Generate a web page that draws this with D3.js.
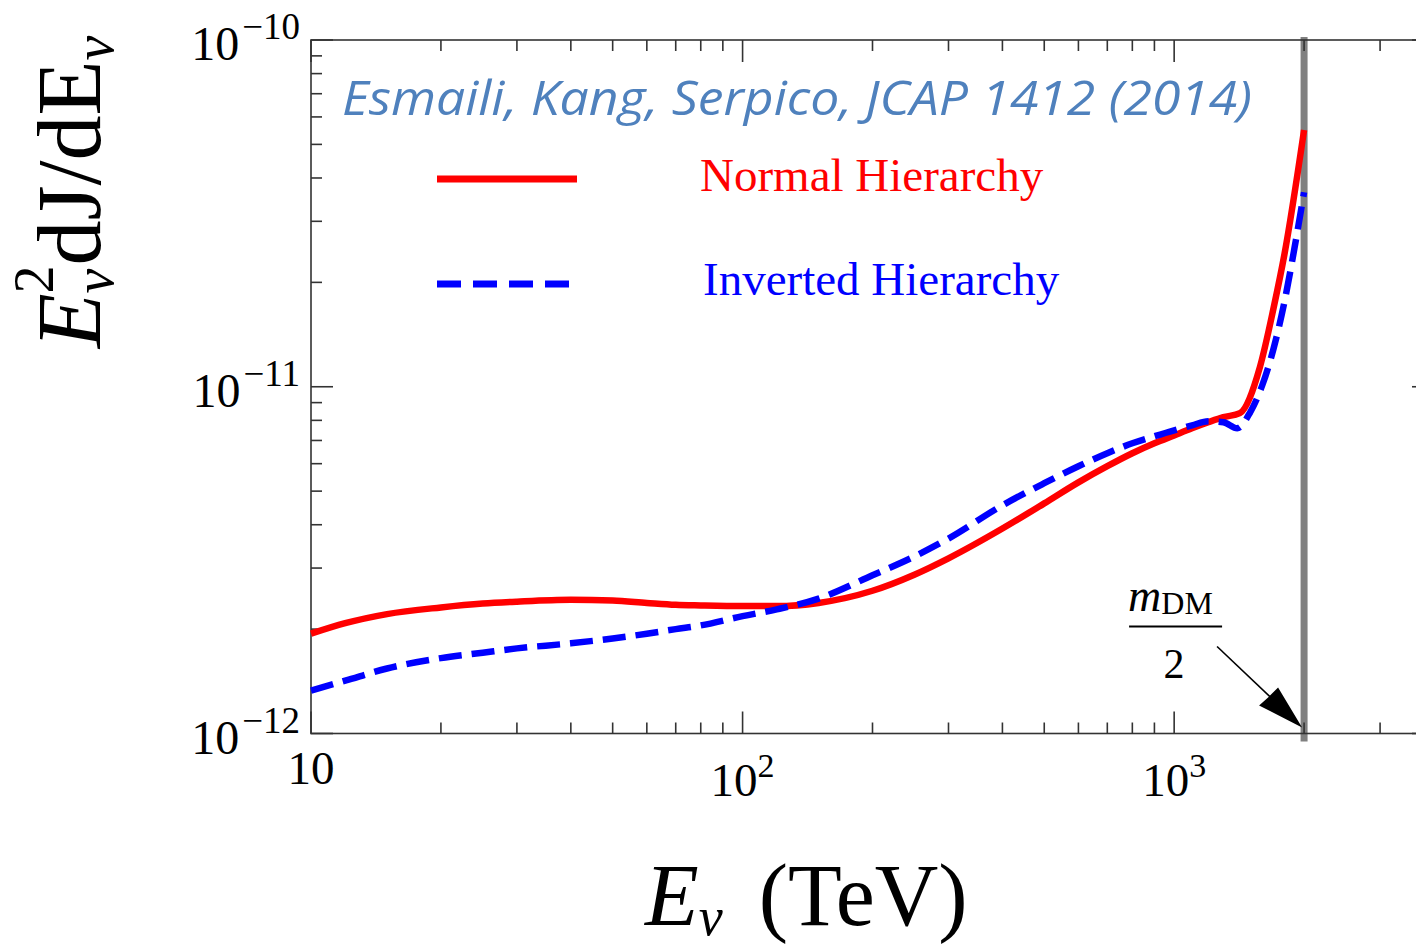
<!DOCTYPE html>
<html><head><meta charset="utf-8">
<script src="https://cdn.jsdelivr.net/npm/d3@7"></script>
<style>body{margin:0;background:#fff} svg{display:block}</style>
</head><body>
<svg id="c" width="1416" height="948"></svg>
<script>
// ---- data ----
const nhEnergy = [10,12,15,20,25,30,40,50,60,70,80,100,120,150,200,250,300,400,500,600,700,800,900,1000,1100,1200,1300,1420,1580,1700,1800,2000];
const nhFlux   = [1.94e-12,2.08e-12,2.21e-12,2.31e-12,2.37e-12,2.40e-12,2.43e-12,2.42e-12,2.38e-12,2.35e-12,2.34e-12,2.33e-12,2.33e-12,2.38e-12,2.58e-12,2.87e-12,3.20e-12,3.90e-12,4.61e-12,5.30e-12,5.90e-12,6.43e-12,6.87e-12,7.24e-12,7.59e-12,7.90e-12,8.17e-12,8.39e-12,1.14e-11,1.69e-11,2.40e-11,5.50e-11];
const ihEnergy = [10,12,15,20,25,30,40,50,60,70,80,100,120,150,200,250,300,400,500,600,700,800,900,1000,1100,1200,1300,1400,1500,1600,1700,1800,1900,2000];
const ihFlux   = [1.33e-12,1.42e-12,1.54e-12,1.65e-12,1.71e-12,1.76e-12,1.82e-12,1.88e-12,1.94e-12,2.00e-12,2.05e-12,2.18e-12,2.28e-12,2.45e-12,2.86e-12,3.24e-12,3.65e-12,4.55e-12,5.27e-12,5.90e-12,6.43e-12,6.87e-12,7.20e-12,7.49e-12,7.74e-12,7.95e-12,7.90e-12,7.59e-12,8.44e-12,1.01e-11,1.29e-11,1.75e-11,2.51e-11,3.64e-11];
const seriesNames = ["Normal Hierarchy", "Inverted Hierarchy"];
const xTickValues = [10, 100, 1000];
const xTickBase = ["10", "10", "10"];
const xTickExp = ["", "2", "3"];
const yTickValues = [1e-10, 1e-11, 1e-12];
const yTickExp = ["\u221210", "\u221211", "\u221212"];
const halfMass = 2000;
const citation = "Esmaili, Kang, Serpico, JCAP 1412 (2014)";

// ---- layout ----
const svg = d3.select("#c");
const L = 311, T = 40, B = 733.5;
const x = d3.scaleLog().domain([10, 4000]).range([L, 1434]);
const y = d3.scaleLog().domain([1e-12, 1e-10]).range([B, T]);
const R = x.range()[1];
const serif = "'Liberation Serif','Times New Roman',serif";
const axisColor = "#333";

// minor ticks
const xMinor = [], yMinor = [];
[10, 100, 1000].forEach(d => { for (let k = 2; k <= 9; k++) if (d * k <= 4000) xMinor.push(d * k); });
[1e-12, 1e-11].forEach(d => { for (let k = 2; k <= 9; k++) yMinor.push(d * k); });

// vertical line at m_DM/2
svg.append("line").attr("x1", x(halfMass)).attr("x2", x(halfMass))
  .attr("y1", T - 3).attr("y2", B + 8).attr("stroke", "#808080").attr("stroke-width", 7);

// frame
svg.append("rect").attr("x", L).attr("y", T).attr("width", R - L).attr("height", B - T)
  .attr("fill", "none").attr("stroke", axisColor).attr("stroke-width", 1.6);

const g = svg.append("g").attr("stroke", axisColor).attr("stroke-width", 1.6);
function xt(vals, len) {
  vals.forEach(v => {
    g.append("line").attr("x1", x(v)).attr("x2", x(v)).attr("y1", B).attr("y2", B - len);
    g.append("line").attr("x1", x(v)).attr("x2", x(v)).attr("y1", T).attr("y2", T + len);
  });
}
function yt(vals, len) {
  vals.forEach(v => {
    g.append("line").attr("x1", L).attr("x2", L + len).attr("y1", y(v)).attr("y2", y(v));
    g.append("line").attr("x1", R).attr("x2", R - len).attr("y1", y(v)).attr("y2", y(v));
  });
}
xt(xTickValues, 22); xt(xMinor, 11);
yt(yTickValues, 22); yt(yMinor, 11);

// x tick labels
xTickValues.forEach((v, i) => {
  const t = svg.append("text").attr("x", x(v)).attr("y", B + (xTickExp[i] ? 62 : 50))
    .attr("text-anchor", "middle").attr("font-family", serif).attr("fill", "#000");
  t.append("tspan").attr("font-size", 47).text(xTickBase[i]);
  if (xTickExp[i]) t.append("tspan").attr("font-size", 34).attr("dy", -19).text(xTickExp[i]);
});
// y tick labels
yTickValues.forEach((v, i) => {
  const t = svg.append("text").attr("x", 300).attr("y", y(v) + 20)
    .attr("text-anchor", "end").attr("font-family", serif).attr("fill", "#000");
  t.append("tspan").attr("font-size", 48).text("10");
  t.append("tspan").attr("font-size", 37).attr("dx", 3).attr("dy", -21).text(yTickExp[i]);
});

// curves
const line = d3.line().x(d => x(d[0])).y(d => y(d[1])).curve(d3.curveMonotoneX);
const nh = nhEnergy.map((e, i) => [e, nhFlux[i]]);
const ih = ihEnergy.map((e, i) => [e, ihFlux[i]]);
svg.append("path").attr("d", line(nh)).attr("fill", "none").attr("stroke", "#ff0000")
  .attr("stroke-width", 6.5).attr("stroke-linejoin", "round");
svg.append("path").attr("d", line(ih)).attr("fill", "none").attr("stroke", "#0000ff")
  .attr("stroke-width", 6.5).attr("stroke-dasharray", "23,10");

// legend
svg.append("line").attr("x1", 437).attr("x2", 577).attr("y1", 179).attr("y2", 179)
  .attr("stroke", "#ff0000").attr("stroke-width", 7);
svg.append("line").attr("x1", 437).attr("x2", 569).attr("y1", 284).attr("y2", 284)
  .attr("stroke", "#0000ff").attr("stroke-width", 7).attr("stroke-dasharray", "24,12");
svg.append("text").attr("x", 700).attr("y", 191).attr("font-family", serif).attr("font-size", 47)
  .attr("fill", "#ff0000").text(seriesNames[0]);
svg.append("text").attr("x", 703).attr("y", 295).attr("font-family", serif).attr("font-size", 47)
  .attr("fill", "#0000ff").text(seriesNames[1]);

// citation
svg.append("text").attr("x", 342).attr("y", 115)
  .attr("font-family", "'Open Sans','Noto Sans',sans-serif").attr("font-style", "italic")
  .attr("font-size", 47).attr("fill", "#4f81bd")
  .attr("textLength", 910).attr("lengthAdjust", "spacingAndGlyphs").text(citation);

// m_DM / 2 annotation
const ax = x(halfMass), ay = y(1e-12);
const lab = svg.append("text").attr("x", ax - 176).attr("y", ay - 123).attr("font-family", serif).attr("fill", "#000");
lab.append("tspan").attr("font-style", "italic").attr("font-size", 46).text("m");
lab.append("tspan").attr("font-size", 32).attr("dy", 3).text("DM");
svg.append("line").attr("x1", ax - 175).attr("x2", ax - 82).attr("y1", ay - 107).attr("y2", ay - 107)
  .attr("stroke", "#000").attr("stroke-width", 2);
svg.append("text").attr("x", ax - 130).attr("y", ay - 56).attr("text-anchor", "middle")
  .attr("font-family", serif).attr("font-size", 42).attr("fill", "#000").text("2");
svg.append("line").attr("x1", ax - 87).attr("y1", ay - 87).attr("x2", ax - 30).attr("y2", ay - 33)
  .attr("stroke", "#000").attr("stroke-width", 1.6);
svg.append("polygon")
  .attr("points", [[ax - 2, ay - 6], [ax - 45, ay - 28], [ax - 36, ay - 36], [ax - 26, ay - 46]].map(p => p.join(",")).join(" "))
  .attr("fill", "#000");

// axis titles
const xt2 = svg.append("text").attr("x", 645).attr("y", 925).attr("font-family", serif).attr("fill", "#000");
xt2.append("tspan").attr("font-style", "italic").attr("font-size", 88).text("E");
xt2.append("tspan").attr("font-style", "italic").attr("font-size", 54).attr("dy", 10).text("\u03bd");
xt2.append("tspan").attr("font-size", 88).attr("dx", 14).attr("dy", -10).text("\u00a0(TeV)");

const yt2 = svg.append("text").attr("transform", "translate(100,192) rotate(-90)")
  .attr("text-anchor", "middle").attr("font-family", serif).attr("fill", "#000");
yt2.append("tspan").attr("font-style", "italic").attr("font-size", 90).text("E");
yt2.append("tspan").attr("font-style", "italic").attr("font-size", 56).attr("dy", 13).text("\u03bd");
yt2.append("tspan").attr("font-size", 56).attr("dx", -25).attr("dy", -60).text("2");
yt2.append("tspan").attr("font-size", 90).attr("dy", 47).text("dJ/dE");
yt2.append("tspan").attr("font-size", 56).attr("font-style", "italic").attr("dy", 13).text("\u03bd");
</script>
</body></html>
